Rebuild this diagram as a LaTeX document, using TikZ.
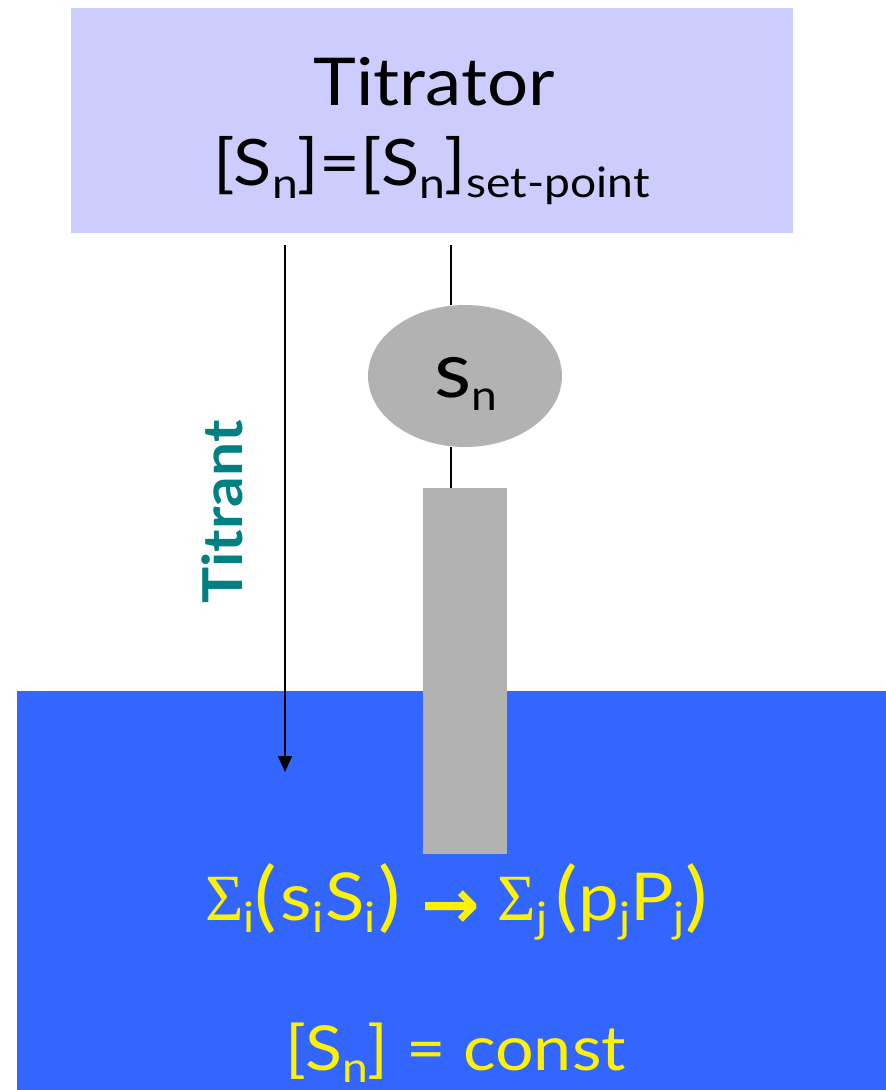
\documentclass[tikz,border=0pt]{standalone}
\usepackage{fontspec}
\setmainfont{Lato}[FakeStretch=1.1]
\newfontfamily\sigmafont{Liberation Serif}
\newfontfamily\arrowfont{DejaVu Sans}
\usetikzlibrary{shapes.geometric,arrows.meta}
\newcommand{\fs}[1]{\fontsize{#1}{#1}\selectfont}
\newcommand{\lo}[3]{\raisebox{#1pt}{\fs{#2}#3}}
\newcommand{\bigp}[1]{\raisebox{-2pt}{\fs{76}#1}}
\tikzset{
  box/.style={draw=none,inner sep=0pt,outer sep=0pt,rectangle,anchor=north west},
  lbl/.style={inner sep=0pt,outer sep=0pt,anchor=base},
  wire/.style={draw=black,line width=1.1pt},
}
\definecolor{titr}{HTML}{CCCCFF}
\definecolor{bath}{HTML}{3366FF}
\definecolor{probegray}{HTML}{B2B2B2}
\definecolor{teal2}{HTML}{008080}
\begin{document}
\begin{tikzpicture}[x=1pt,y=-1pt]
\useasboundingbox (0,0) rectangle (886,1090);
\node[box,fill=bath,minimum width=869pt,minimum height=399pt] (bathbox) at (17,691) {};
\node[box,fill=titr,minimum width=722pt,minimum height=225pt] (titrator) at (71,8) {};
\node[box,fill=probegray,minimum width=84pt,minimum height=366pt] (probe) at (423,488) {};
\node[ellipse,fill=probegray,inner sep=0pt,outer sep=0pt,minimum width=194pt,minimum height=142pt] (sens) at (465,376) {};
\coordinate (wiretop) at (451,245);
\coordinate (arrtop) at (285,245);
\coordinate (arrend) at (285,772);
\draw[wire] (wiretop) -- (wiretop |- sens.north);
\draw[wire] (wiretop |- sens.south) -- (wiretop |- probe.north);
\draw[wire,line width=1.6pt,-{Triangle[length=16pt,width=14pt]}] (arrtop) -- (arrend);
\node[lbl,font=\fs{66}] (t1) at (434,105) {Titrator};
\node[lbl,anchor=base west,font=\fs{64}] (t2) at (213,185) {[S\lo{-13}{42}{n}]=[S\lo{-13}{42}{n}]\lo{-12}{42}{set-point}};
\node[lbl,anchor=base west,font=\fs{78}] (sn) at (434,397) {s\lo{-13}{42}{n}};
\node[lbl,rotate=90,font=\bfseries\fs{55},text=teal2] (titrant) at (242,512) {Titrant};
\node[lbl,anchor=base west,text=yellow,font=\fs{66}] (eq1) at (205,920) {{\sigmafont Σ}\lo{-12}{42}{i}\bigp{(}\kern4pt s\lo{-12}{42}{i}\kern2pt S\lo{-12}{42}{i}\kern3pt\bigp{)}\kern20pt\raisebox{-8pt}{\arrowfont\bfseries\fs{70}→}\kern18pt{\sigmafont Σ}\lo{-12}{42}{j}\kern8pt\bigp{(}\kern1pt p\lo{-12}{42}{j}P\lo{-12}{42}{j}\bigp{)}};
\node[lbl,anchor=base west,text=yellow,font=\fs{62}] (eq2) at (285,1070) {[S\lo{-12}{42}{n}] = const};
\end{tikzpicture}
\end{document}
